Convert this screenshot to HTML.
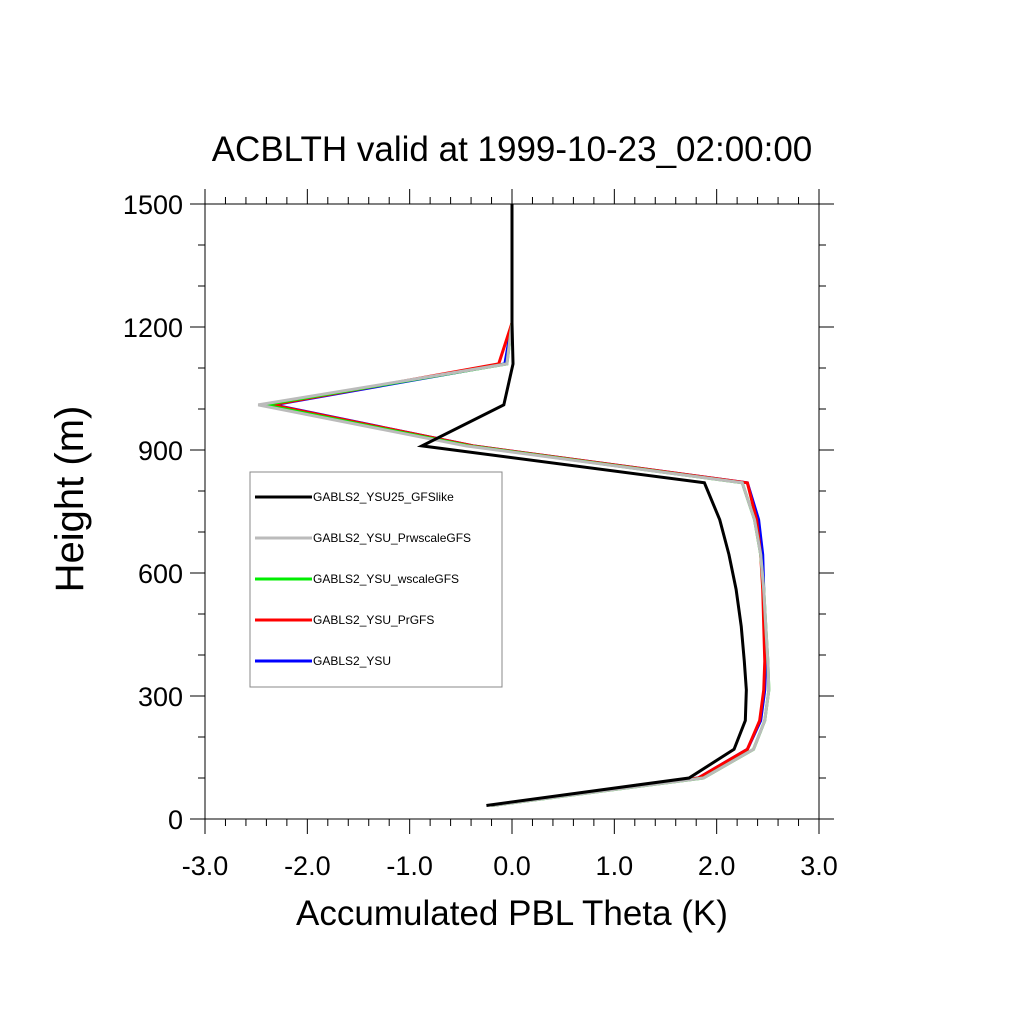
<!DOCTYPE html>
<html><head><meta charset="utf-8"><style>body{margin:0;background:#fff}svg{display:block;font-family:"Liberation Sans",sans-serif}</style></head>
<body>
<svg id="c" width="1024" height="1024" viewBox="0 0 1024 1024"></svg>
<script>
const heights=[33,100,170,240,315,385,470,560,645,730,820,910,1010,1110,1210,1500];
const sBlue=[-0.2,1.82,2.3,2.43,2.47,2.48,2.47,2.46,2.45,2.41,2.3,-0.38,-2.33,-0.07,0,0];
const sRed=[-0.2,1.82,2.3,2.42,2.46,2.47,2.46,2.45,2.43,2.39,2.3,-0.38,-2.35,-0.13,0,0];
const sGreen=[-0.2,1.87,2.36,2.47,2.51,2.5,2.48,2.46,2.43,2.37,2.25,-0.42,-2.42,-0.05,0,0];
const sGray=[-0.2,1.87,2.36,2.47,2.51,2.5,2.48,2.46,2.43,2.37,2.25,-0.45,-2.48,-0.05,0,0];
const sBlack=[-0.25,1.73,2.17,2.28,2.29,2.27,2.24,2.19,2.12,2.03,1.88,-0.88,-0.08,0.01,0,0];
const xTicks=[-3,-2,-1,0,1,2,3];
const xTickLabels=["-3.0","-2.0","-1.0","0.0","1.0","2.0","3.0"];
const yTicks=[0,300,600,900,1200,1500];
const svg=document.getElementById('c'),NS='http://www.w3.org/2000/svg';
const X0=205,X1=819,Y0=819,Y1=204;
const sx=v=>X0+(v+3)/6*(X1-X0), sy=v=>Y0-v/1500*(Y0-Y1);
function el(t,a,p){const e=document.createElementNS(NS,t);for(const k in a)e.setAttribute(k,a[k]);(p||svg).appendChild(e);return e;}
function txt(s,a,name){const e=el('text',a);e.textContent=s;return e;}
const fr=el('rect',{x:X0,y:Y1,width:X1-X0,height:Y0-Y1,fill:'none',stroke:'#000','stroke-width':1});

const tg=el('g',{stroke:'#000','stroke-width':1});

for(let i=0;i<=30;i++){const v=-3+i*0.2,x=sx(v),L=(i%5==0)?15:7;
 el('line',{x1:x,x2:x,y1:Y0,y2:Y0+L},tg);el('line',{x1:x,x2:x,y1:Y1,y2:Y1-L},tg);}
for(let i=0;i<=15;i++){const y=sy(i*100),L=(i%3==0)?15:7;
 el('line',{x1:X0,x2:X0-L,y1:y,y2:y},tg);el('line',{x1:X1,x2:X1+L,y1:y,y2:y},tg);}
xTicks.forEach((v,i)=>txt(xTickLabels[i],{x:sx(v),y:875,'font-size':27,'text-anchor':'middle'},'x-tick-label'));
yTicks.forEach(v=>txt(String(v),{x:183,y:sy(v)+10,'font-size':27,'text-anchor':'end'},'y-tick-label'));
txt('ACBLTH valid at 1999-10-23_02:00:00',{x:512,y:161,'font-size':35,'text-anchor':'middle'},'chart-title');
txt('Accumulated PBL Theta (K)',{x:512,y:925,'font-size':35,'text-anchor':'middle'},'x-axis-title');
txt('Height (m)',{x:0,y:0,'font-size':40,'text-anchor':'middle',transform:'translate(83,499) rotate(-90)'},'y-axis-title');
const series=[[sBlue,'#0000ff','series-ysu'],[sRed,'#ff0000','series-prgfs'],[sGreen,'#00ee00','series-wscalegfs'],[sGray,'#bbbbbb','series-prwscalegfs'],[sBlack,'#000000','series-ysu25-gfslike']];
series.forEach(([d,c,n])=>{const p=el('polyline',{points:d.map((v,i)=>sx(v)+','+sy(heights[i])).join(' '),fill:'none',stroke:c,'stroke-width':3,'stroke-linejoin':'miter'});
 });
const lg=el('g',{});
el('rect',{x:250,y:472,width:252,height:215,fill:'#fff',stroke:'#888','stroke-width':1},lg);
const leg=[['GABLS2_YSU25_GFSlike','#000'],['GABLS2_YSU_PrwscaleGFS','#bbb'],['GABLS2_YSU_wscaleGFS','#00ee00'],['GABLS2_YSU_PrGFS','#f00'],['GABLS2_YSU','#00f']];
leg.forEach(([t,c],i)=>{const y=497+i*41;el('line',{x1:255,x2:312,y1:y,y2:y,stroke:c,'stroke-width':3},lg);
 const e=txt(t,{x:313,y:y+4,'font-size':12},'legend-entry');lg.appendChild(e);});
</script>
</body></html>
